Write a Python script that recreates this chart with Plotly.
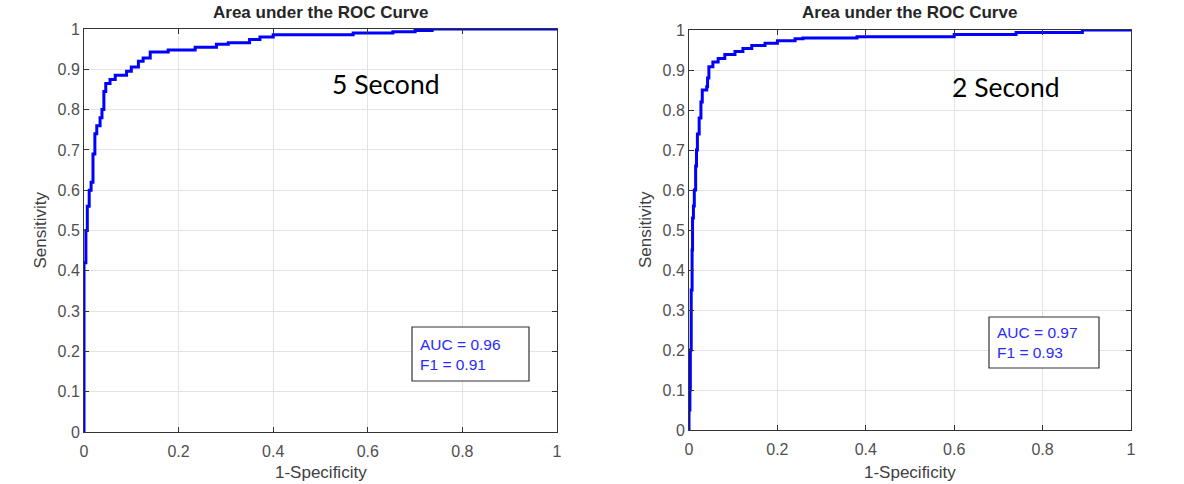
import plotly.graph_objects as go

W, H = 1184, 484

# ---- data ----
fpr_5s = [0, 0, 0.004, 0.007, 0.011, 0.015, 0.019, 0.023, 0.027, 0.034, 0.038, 0.042, 0.046,
          0.055, 0.066, 0.09, 0.10, 0.115, 0.125, 0.14, 0.178, 0.235, 0.28, 0.305, 0.35, 0.372,
          0.40, 0.569, 0.653, 0.70, 0.736, 1.0]
tpr_5s = [0, 0.42, 0.50, 0.56, 0.60, 0.62, 0.69, 0.74, 0.76, 0.78, 0.80, 0.845, 0.865,
          0.875, 0.885, 0.895, 0.906, 0.92, 0.928, 0.943, 0.948, 0.955, 0.962, 0.966, 0.974, 0.98,
          0.986, 0.99, 0.993, 0.996, 1.0, 1.0]

fpr_2s = [0, 0, 0.002, 0.003, 0.005, 0.007, 0.008, 0.010, 0.012, 0.015, 0.017, 0.019, 0.023,
          0.027, 0.030, 0.040, 0.042, 0.045, 0.054, 0.066, 0.081, 0.104, 0.122, 0.142, 0.172,
          0.20, 0.24, 0.258, 0.38, 0.60, 0.74, 0.89, 1.0]
tpr_2s = [0, 0.05, 0.10, 0.20, 0.35, 0.45, 0.53, 0.56, 0.60, 0.66, 0.70, 0.74, 0.78,
          0.82, 0.85, 0.858, 0.88, 0.908, 0.92, 0.929, 0.939, 0.946, 0.954, 0.961, 0.967,
          0.973, 0.978, 0.98, 0.983, 0.989, 0.994, 1.0, 1.0]

x_ticks = [0, 0.2, 0.4, 0.6, 0.8, 1]
x_tick_labels = ["0", "0.2", "0.4", "0.6", "0.8", "1"]
y_ticks = [0, 0.1, 0.2, 0.3, 0.4, 0.5, 0.6, 0.7, 0.8, 0.9, 1]
y_tick_labels = ["0", "0.1", "0.2", "0.3", "0.4", "0.5", "0.6", "0.7", "0.8", "0.9", "1"]

panel_labels = ["5 Second", "2 Second"]
auc_values = [0.96, 0.97]
f1_values = [0.91, 0.93]
title_text = "Area under the ROC Curve"
x_title = "1-Specificity"
y_title = "Sensitivity"

# ---- layout in pixels ----
panels = [
    dict(x0=84, x1=557, y0=29, y1=432, lab=(310, 505, 42, 125), labpos=(386, 84),
         box=(412, 529, 327, 381)),
    dict(x0=689, x1=1131, y0=30, y1=430, lab=(923, 1128, 45, 125), labpos=(1006, 87),
         box=(989, 1099, 317, 368)),
]

def px(x):
    return x / W

def py(y):
    return 1 - y / H

fig = go.Figure()
series = [(fpr_5s, tpr_5s), (fpr_2s, tpr_2s)]
axis_font = dict(family="Liberation Sans, Arial", size=16, color="#505050")

for i, p in enumerate(panels):
    n = "" if i == 0 else str(i + 1)
    xa, ya = "x" + n, "y" + n
    fig.add_trace(go.Scatter(x=series[i][0], y=series[i][1], mode="lines",
                             line=dict(color="#0000ff", width=3, shape="hv"),
                             xaxis=xa, yaxis=ya, showlegend=False, hoverinfo="skip",
                             cliponaxis=False))
    common = dict(range=[0, 1], showgrid=True, gridcolor="#e3e3e3", gridwidth=1,
                  zeroline=False, showline=True, linecolor="#333333", linewidth=1,
                  mirror="ticks", ticks="inside", ticklen=5, tickcolor="#333333",
                  tickfont=axis_font, fixedrange=True, automargin=False)
    fig.layout["xaxis" + n] = dict(common, domain=[px(p["x0"]), px(p["x1"])],
                                   tickvals=x_ticks, ticktext=x_tick_labels,
                                   anchor=ya, ticklabelstandoff=5)
    fig.layout["yaxis" + n] = dict(common, domain=[py(p["y1"]), py(p["y0"])],
                                   tickvals=y_ticks, ticktext=y_tick_labels,
                                   anchor=xa)
    # white label background hiding gridlines
    lx0, lx1, ly0, ly1 = p["lab"]
    fig.add_shape(type="rect", xref="paper", yref="paper", x0=px(lx0), x1=px(lx1),
                  y0=py(ly1), y1=py(ly0), fillcolor="white", line=dict(width=0),
                  layer="between")
    fig.add_annotation(xref="paper", yref="paper", x=px(p["labpos"][0]), y=py(p["labpos"][1]),
                       text=panel_labels[i], showarrow=False, xanchor="center", yanchor="middle",
                       font=dict(family="Lato, Open Sans", size=26.5, color="#000000"))
    # AUC / F1 box
    bx0, bx1, by0, by1 = p["box"]
    fig.add_shape(type="rect", xref="paper", yref="paper", x0=px(bx0), x1=px(bx1),
                  y0=py(by1), y1=py(by0), fillcolor="white",
                  line=dict(color="#333333", width=1.2), layer="above")
    fig.add_annotation(xref="paper", yref="paper", x=px(bx0 + 6), y=py((by0 + by1) / 2),
                       text=f"AUC = {auc_values[i]:.2f}<br>F1 = {f1_values[i]:.2f}",
                       showarrow=False, xanchor="left", yanchor="middle", align="left",
                       font=dict(family="Liberation Sans, Arial", size=15.5, color="#2a2aff"))
    # title
    fig.add_annotation(xref="paper", yref="paper", x=px((p["x0"] + p["x1"]) / 2), y=py(12),
                       text=f"<b>{title_text}</b>", showarrow=False, xanchor="center",
                       yanchor="middle",
                       font=dict(family="Liberation Sans, Arial", size=17, color="#262626"))
    # axis titles
    fig.add_annotation(xref="paper", yref="paper", x=px((p["x0"] + p["x1"]) / 2), y=py(472),
                       text=x_title, showarrow=False, xanchor="center", yanchor="middle",
                       font=dict(family="Liberation Sans, Arial", size=17, color="#404040"))
    fig.add_annotation(xref="paper", yref="paper", x=px(p["x0"] - 44), y=py((p["y0"] + p["y1"]) / 2),
                       text=y_title, showarrow=False, xanchor="center", yanchor="middle",
                       textangle=-90,
                       font=dict(family="Liberation Sans, Arial", size=17, color="#404040"))

fig.update_layout(width=W, height=H, margin=dict(l=0, r=0, t=0, b=0),
                  paper_bgcolor="white", plot_bgcolor="white")

fig.write_html("out.html", config={"displayModeBar": False},
               post_script="document.body.style.margin='0';document.body.style.overflow='hidden';")
